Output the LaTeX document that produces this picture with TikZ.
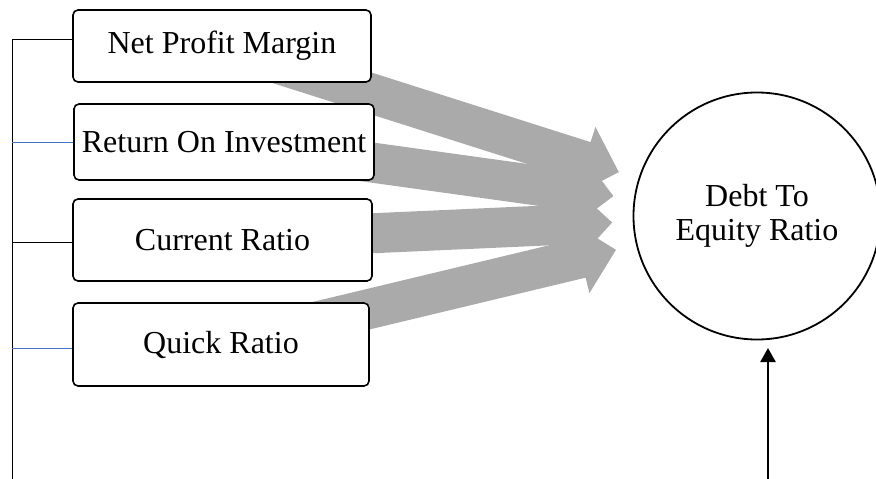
\documentclass[tikz,border=0pt]{standalone}
\usepackage{fontspec}
\setmainfont{Liberation Serif}
\usetikzlibrary{calc,arrows.meta,backgrounds}
\definecolor{arrowgray}{HTML}{AAAAAA}
\definecolor{linkblue}{HTML}{4472C4}
\tikzset{
  box/.style={draw, rounded corners=5pt, line width=1.6pt, fill=white, inner sep=0pt,
    font=\fontsize{32}{34}\selectfont},
  thinlink/.style={line width=1pt},
}
\begin{document}
\begin{tikzpicture}[x=1pt,y=-1pt]
\useasboundingbox (0,0) rectangle (876,479);
% boxes
\node[box, minimum width=298pt, minimum height=72pt] (b1) at (222,46) {Net Profit Margin};
\node[box, minimum width=300pt, minimum height=76pt] (b2) at (224,142) {Return On Investment};
\node[box, minimum width=299pt, minimum height=82pt] (b3) at (222.5,240) {Current Ratio};
\node[box, minimum width=296pt, minimum height=83pt] (b4) at (221,344.5) {Quick Ratio};
% circle
\node[draw, circle, minimum size=247pt, line width=1.8pt, align=center, inner sep=0pt,
  font=\fontsize{32}{34}\selectfont] (dte) at (757,216) {Debt To\\Equity Ratio};
% big gray arrows behind the boxes
\begin{scope}[on background layer]
\foreach \b in {b1,b2,b3,b4} {
  \path (\b.center) coordinate (A)
        ($(dte.center)!145pt!(\b.center)$) coordinate (T);
  \path ($(T)!36pt!(A)$) coordinate (H);
  \fill[arrowgray] ($(A)!20pt!90:(T)$) -- ($(H)!20pt!-90:(A)$) -- ($(H)!36pt!-90:(A)$)
     -- (T) -- ($(H)!36pt!90:(A)$) -- ($(H)!20pt!90:(A)$) -- ($(A)!20pt!-90:(T)$) -- cycle;
}
\end{scope}
% left bracket lines
\coordinate (h1) at (12,39);
\coordinate (h2) at (12,142);
\coordinate (h3) at (12,242);
\coordinate (h4) at (12,348);
\coordinate (vb) at (12,479);
\draw[thinlink] (h1) -- (vb);
\draw[thinlink] (h1) -- (h1 -| b1.west);
\draw[thinlink, linkblue] (h2) -- (h2 -| b2.west);
\draw[thinlink] (h3) -- (h3 -| b3.west);
\draw[thinlink, linkblue] (h4) -- (h4 -| b4.west);
% bottom arrow
\coordinate (bb) at (768,479);
\coordinate (bt) at (768,348);
\draw[line width=2.5pt, -{Triangle[length=14pt,width=15pt]}] (bb) -- (bt);
\end{tikzpicture}
\end{document}
